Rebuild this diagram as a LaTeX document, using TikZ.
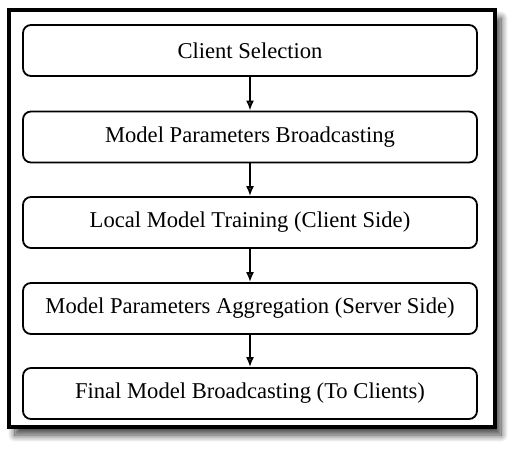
\documentclass[tikz,border=0pt]{standalone}
\usepackage{fontspec}
\setmainfont{Liberation Serif}
\usetikzlibrary{shadows.blur,arrows.meta}

\begin{document}
\begin{tikzpicture}[x=1pt,y=-1pt,->,>={Latex[length=10pt,width=8pt]}]
    \tikzstyle{frame}=[draw=black,line width=3.5pt,fill=white,blur shadow={shadow xshift=6pt,shadow yshift=-8pt,shadow blur steps=12,shadow blur radius=7pt,shadow opacity=75}]
    \tikzstyle{stage}=[draw=black,line width=1.8pt,rounded corners=8pt,fill=white,minimum width=454pt,minimum height=51pt,inner sep=0pt,font=\fontsize{22.6}{26}\selectfont]
    \useasboundingbox (0,0) rectangle (516,452);
    \draw[frame,-] (9,10) rectangle (495,427);

    \foreach \num/\y/\txt in {1/50.5/Client Selection, 2/137/Model Parameters Broadcasting, 3/222.5/Local Model Training (Client Side), 4/308.5/Model Parameters Aggregation (Server Side), 5/393.5/Final Model Broadcasting (To Clients)}
            \node[stage] (S-\num) at (250,\y) {\txt};

        \foreach \from/\to in {1/2, 2/3, 3/4, 4/5}
            \draw[line width=1.8pt] (S-\from) -- (S-\to);
\end{tikzpicture}
\end{document}
